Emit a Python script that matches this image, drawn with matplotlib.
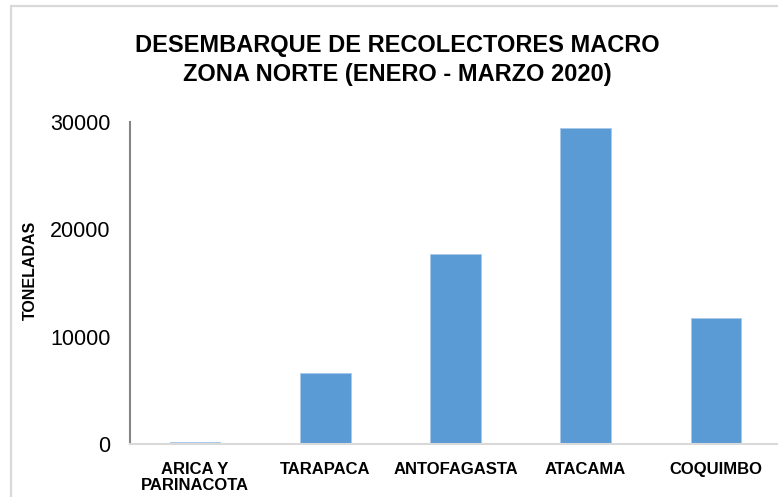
import matplotlib.pyplot as plt
from matplotlib.patches import Rectangle

# data
regiones = ["ARICA Y\nPARINACOTA", "TARAPACA", "ANTOFAGASTA", "ATACAMA", "COQUIMBO"]
toneladas = [150, 6600, 17700, 29400, 11750]
yticks = [0, 10000, 20000, 30000]

titulo = "DESEMBARQUE DE RECOLECTORES MACRO\nZONA NORTE (ENERO - MARZO 2020)"

plt.rcParams["font.family"] = ["Liberation Sans", "DejaVu Sans"]

W, H = 778, 497
fig = plt.figure(figsize=(W / 100, H / 100), dpi=100)

# axes placed in pixel terms of the reference
left, right, bottom, top = 130, 781, 444, 122
ax = fig.add_axes([left / W, 1 - bottom / H, (right - left) / W, (bottom - top) / H])

x = range(len(regiones))
ax.bar(x, toneladas, width=0.39, color="#5b9bd5", edgecolor="#a9c9ea", linewidth=0.6, zorder=2)

ax.set_xlim(-0.5, 4.5)
ax.set_ylim(0, 30000)
ax.set_yticks(yticks)
ax.set_yticklabels([str(v) for v in yticks], fontsize=15.5)
ax.set_xticks(list(x))
ax.set_xticklabels(regiones, fontsize=12, fontweight="bold", linespacing=1.05)
ax.tick_params(axis="y", length=0, pad=14, colors="#000000")
ax.tick_params(axis="x", length=0, pad=13)

for s in ["top", "right"]:
    ax.spines[s].set_visible(False)
ax.spines["left"].set_color("#868686")
ax.spines["left"].set_linewidth(1.5)
ax.spines["bottom"].set_color("#d9d9d9")
ax.spines["bottom"].set_linewidth(1.5)

ax.set_ylabel("TONELADAS", fontsize=11.5, fontweight="bold")
ax.yaxis.set_label_coords((38 - left) / (right - left), (bottom - 270) / (bottom - top))

fig.text(397 / W, 1 - 60 / H, titulo, ha="center", va="center",
         fontsize=17, fontweight="bold", linespacing=1.3)

# light gray chart frame (top and left edges visible)
fig.add_artist(Rectangle((11 / W, -0.1), 1.2, 1 - 6 / H + 0.1,
                         transform=fig.transFigure, fill=False,
                         edgecolor="#d9d9d9", linewidth=1.6))

fig.savefig("out.png", dpi=100)
